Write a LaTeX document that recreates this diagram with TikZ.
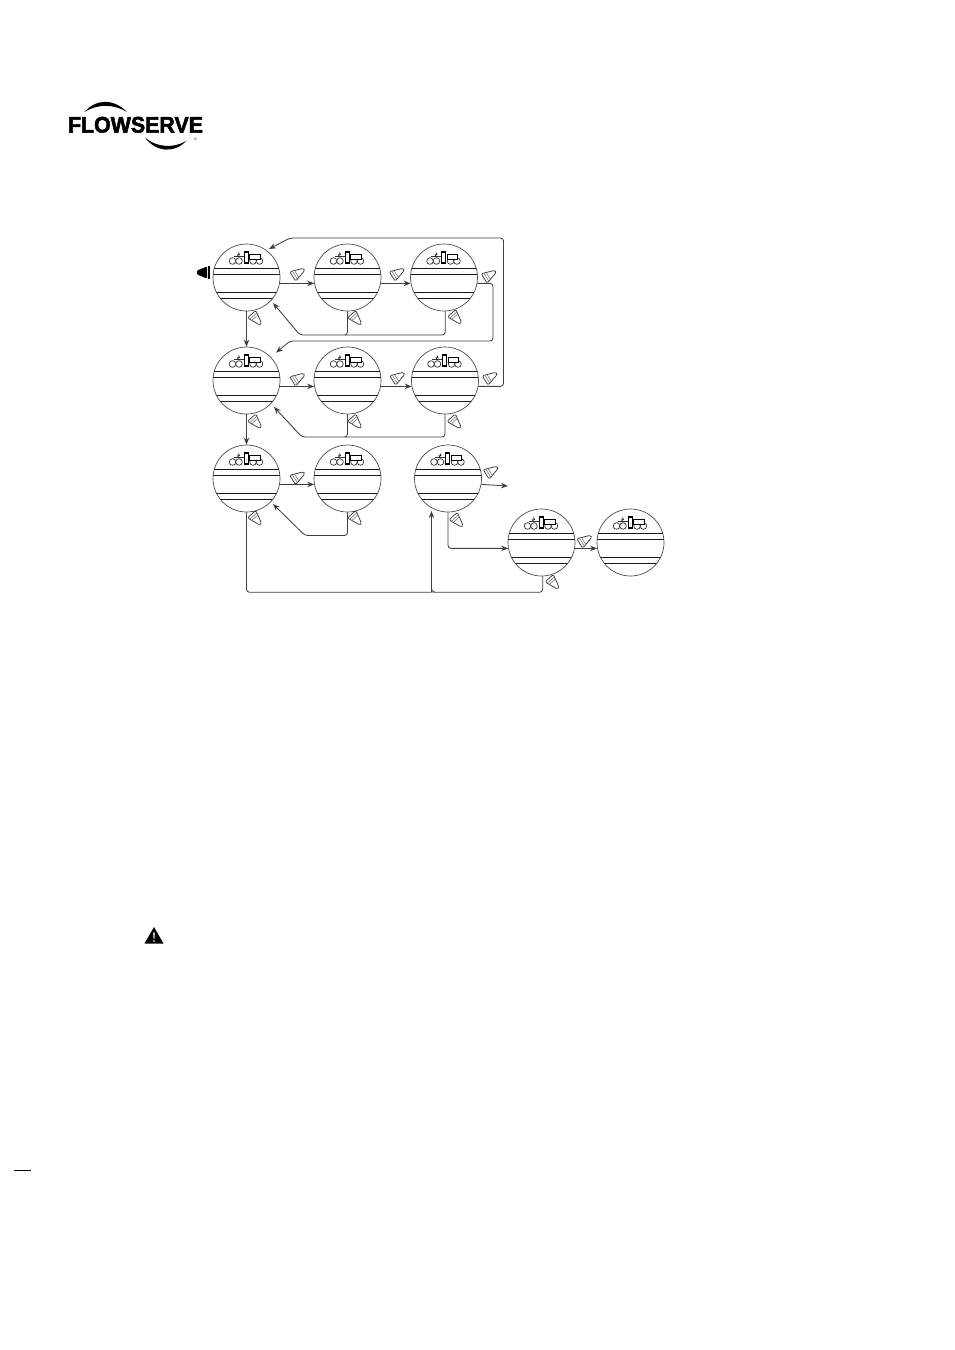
\documentclass[tikz,border=0pt]{standalone}
\usepackage{fontspec}
\setmainfont{Liberation Sans}
\newfontfamily\logofont[FakeBold=2.4]{Liberation Sans Bold}
\usetikzlibrary{arrows.meta}
\tikzset{
  dial/.style={circle,draw=black!70,line width=.7pt,minimum size=67pt,inner sep=0pt,fill=white},
  conn/.style={draw=black!75,line width=.85pt,rounded corners=3pt,-{Stealth[length=7pt,width=5.5pt]}},
  plainconn/.style={draw=black!75,line width=.85pt,rounded corners=3pt},
  band/.style={black!90,line width=1.1pt},
  keyline/.style={draw=black!80,line width=.7pt,line join=round,fill=white,rounded corners=1.4pt},
}
\newcommand\conekey[3]{%
  \begin{scope}[shift={(#1,#2)},rotate=#3]
    \path[keyline] (-6.5,-5.6) -- (-6.5,5.6) -- (7,1.2) -- (7,-1.2) -- cycle;
    \draw[draw=black!60,line width=.5pt] (-4,-4.6) -- (-4,4.6) (-1.8,-3.8) -- (-1.8,3.8);
  \end{scope}}
\begin{document}
\begin{tikzpicture}[x=1pt,y=-1pt]
\fill[white] (0,0) rectangle (954,1350);
\useasboundingbox (0,0) rectangle (954,1350);

% logo
\node[font=\logofont\fontsize{22.5}{22.5}\selectfont,inner sep=0pt,xscale=.95,transform shape] (logo) at (135.5,124.8) {FLOWSERVE};
\fill[black] (84.5,112) .. controls (96,98.5) and (114,98.5) .. (127,112) .. controls (114,103.8) and (97,103.8) .. cycle;
\fill[black] (145,137.5) .. controls (156,152.5) and (175,153.5) .. (186,141) .. controls (174,148.5) and (156,147.5) .. cycle;
\node[font=\fontsize{3.5}{4}\selectfont,inner sep=0pt] (reg) at (195.5,139.5) {®};

% dials
\foreach \n/\x/\y in {c11/246.5/277.5,c12/347.5/277.5,c13/444/277.5,
                      c21/246.5/380.5,c22/347.5/380.5,c23/445/380.5,
                      c31/246.5/478.5,c32/347.5/478.5,c33/448/478.5,
                      c41/541.5/542.5,c42/630.5/542.5}{
  \node[dial] (\n) at (\x,\y) {};
  \begin{scope}[shift={(\x,\y)}]
    \begin{scope}
      \clip (0,0) circle[radius=33.5];
      \draw[band] (-34,-9) -- (34,-9) (-34,-3) -- (34,-3) (-34,15) -- (34,15) (-34,21) -- (34,21);
    \end{scope}
    \draw[black!80,line width=.7pt] (-13,-21) -- (-3,-21);
    \foreach \cx in {-14,-7.5,6.5,13}{\draw[black!80,line width=.7pt,fill=white] (\cx,-16.5) circle[radius=3.3];}
    \draw[black,line width=1.3pt,fill=white] (-2.2,-25.5) rectangle (1.8,-14.5);
    \draw[black,line width=.8pt,fill=white] (3.3,-23.5) rectangle (13.5,-18.5);
    \draw[black,line width=1pt] (3.5,-22.8) -- (13,-22.8);
    \draw[black!85,line width=.8pt] (-8,-25) -- (-7,-22.8) -- (-9,-22.8) -- (-8,-20.5);
  \end{scope}
}

% free ends and bends
\coordinate (e1) at (269,249);
\coordinate (e2) at (276,352.7);
\coordinate (e3) at (273,303);
\coordinate (e4) at (274,407);
\coordinate (e5) at (273,504);
\coordinate (e6) at (508,486);
\coordinate (r1) at (493,341);
\coordinate (r1b) at (290,341);
\coordinate (r2) at (503.5,238);
\coordinate (r2b) at (290,238);
\coordinate (j1) at (345,335);
\coordinate (j1b) at (300,335);
\coordinate (j2) at (345,437);
\coordinate (j2b) at (302,437);
\coordinate (j3) at (345,535.5);
\coordinate (j3b) at (305,535.5);
\coordinate (b1) at (431.5,592.3);
\coordinate (b2) at (435.5,592.3);
\coordinate (u1) at (431.5,511);

% connectors
\draw[conn] (c11.-10) -- (c12.190);
\draw[conn] (c12.-10) -- (c13.190);
\draw[conn] (c13.-10) -| (r1) -- (r1b) -- (e2);
\draw[conn] (c23.-10) -| (r2) -- (r2b) -- (e1);
\draw[conn] (c11.south) -- (c21.north);
\draw[conn] (c21.south) -- (c31.north);
\draw[conn] (c12.south) |- (j1b) -- (e3);
\draw[plainconn] (c13.-88) |- (j1);
\draw[conn] (c21.-10) -- (c22.190);
\draw[conn] (c22.-10) -- (c23.190);
\draw[conn] (c22.south) |- (j2b) -- (e4);
\draw[plainconn] (c23.south) |- (j2);
\draw[conn] (c31.-10) -- (c32.190);
\draw[conn] (c32.south) |- (j3b) -- (e5);
\draw[plainconn] (c31.south) |- (b1);
\draw[conn] (b1) -- (u1);
\draw[plainconn] (c41.-88) |- (b2) -- ++(-3,0) -- ++(-1,-3);
\draw[conn] (c33.-10) -- (e6);
\draw[conn] (c33.south) |- (c41.190);
\draw[conn] (c41.-10) -- (c42.190);

% keys
\begin{scope}[shift={(1.2,-2)}]
\foreach \kx/\ky in {297/275,396.5/275,488.5/277,297/380,397/379,489.5/379,297/478.5,490.5/473,584/542}{\conekey{\kx}{\ky}{32}}
\end{scope}
\begin{scope}[shift={(1.5,1.5)}]
\foreach \kx/\ky in {254.5/317.5,354.5/317.5,454.5/316.5,254.5/421,354.5/421,454/421,254.5/517.5,354.5/517.5,456/519.5,552/581.5}{\conekey{\kx}{\ky}{-48}}
\end{scope}
\begin{scope}[shift={(204,272.5)}]
  \fill[black] (6,-6.5) -- (6,6.5) -- (3.8,6.5) -- (3.8,-6.5) -- cycle;
  \fill[black,rounded corners=1pt] (3,-6) -- (3,6) -- (-7,2) -- (-7,-2) -- cycle;
\end{scope}

% warning triangle
\fill[black,line join=round] (154,927) -- (163.5,943.5) -- (144.5,943.5) -- cycle;
\fill[white] (153.2,932.5) -- (154.8,932.5) -- (154.4,939) -- (153.6,939) -- cycle;
\fill[white] (154,941) circle[radius=.9];

% footer rule
\draw[black,line width=.9pt] (14,1170.4) -- (30.7,1170.4);
\end{tikzpicture}
\end{document}
